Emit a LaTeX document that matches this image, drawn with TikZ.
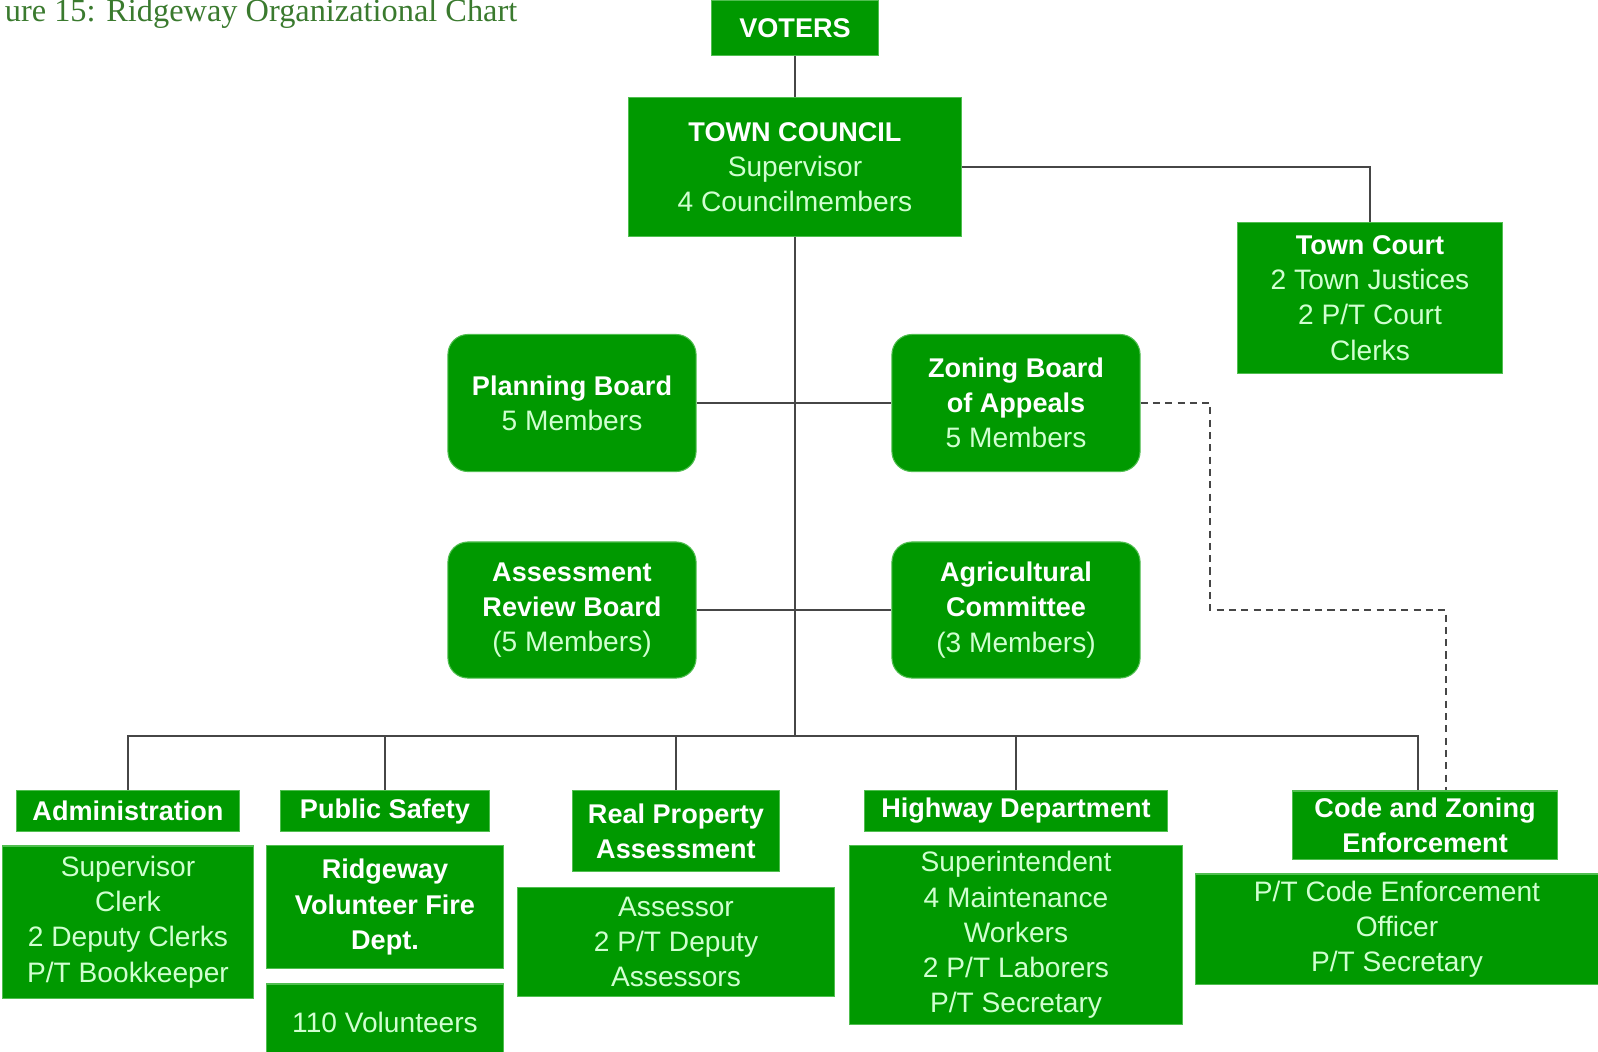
\documentclass[tikz,border=0pt]{standalone}
\usepackage{fontspec}
\setsansfont{Liberation Sans}
\newfontfamily\titlefont{Liberation Serif}
\usepackage{xcolor}
\usepackage{tikz}

\definecolor{orggreen}{RGB}{0,153,0}
\definecolor{orgedge}{RGB}{80,190,80}
\definecolor{orgtext}{RGB}{208,255,208}
\definecolor{orgline}{RGB}{70,70,70}
\definecolor{titlegreen}{RGB}{58,122,46}
\newcommand{\hd}[1]{\textcolor{white}{\bfseries\fontsize{7.7}{10}\selectfont #1}}

\begin{document}
\begin{tikzpicture}[
  x=0.01cm, y=-0.01cm,
  orgbox/.style={fill=orggreen, draw=orgedge, line width=0.3pt, inner sep=0pt, align=center,
    text=orgtext, font=\sffamily\fontsize{8}{10}\selectfont},
  roundbox/.style={orgbox, rounded corners=0.2cm},
  headbox/.style={orgbox, text=white, font=\sffamily\bfseries\fontsize{7.7}{10}\selectfont},
  link/.style={draw=orgline, line width=0.7pt},
  dashlink/.style={link, dash pattern=on 2pt off 1.5pt},
]
  \useasboundingbox (0,0) rectangle (1598,1051);

  % Title
  \node[anchor=base east, inner sep=0pt, text=titlegreen, font=\titlefont\fontsize{9.2}{11}\selectfont]
    (title) at (518,21) {ure 15: Ridgeway Organizational Chart};

  % Top
  \node[headbox, minimum width=1.66cm, minimum height=0.55cm] (voters) at (795,28) {VOTERS};
  \node[orgbox, minimum width=3.32cm, minimum height=1.38cm] (council) at (795,167)
    {\hd{TOWN COUNCIL}\\Supervisor\\4 Councilmembers};
  \node[orgbox, minimum width=2.64cm, minimum height=1.51cm] (court) at (1370,298)
    {\hd{Town Court}\\2 Town Justices\\2 P/T Court\\Clerks};

  % Boards
  \node[roundbox, minimum width=2.48cm, minimum height=1.37cm] (planning) at (572,403)
    {\hd{Planning Board}\\5 Members};
  \node[roundbox, minimum width=2.48cm, minimum height=1.37cm] (zoning) at (1016,403)
    {\hd{Zoning Board}\\\hd{of Appeals}\\5 Members};
  \node[roundbox, minimum width=2.48cm, minimum height=1.36cm] (review) at (572,610)
    {\hd{Assessment}\\\hd{Review Board}\\(5 Members)};
  \node[roundbox, minimum width=2.48cm, minimum height=1.36cm] (agri) at (1016,610)
    {\hd{Agricultural}\\\hd{Committee}\\(3 Members)};

  % Departments
  \node[headbox, minimum width=2.22cm, minimum height=0.41cm] (adminh) at (128,811) {Administration};
  \node[orgbox, minimum width=2.50cm, minimum height=1.52cm] (admin) at (128,922)
    {Supervisor\\Clerk\\2 Deputy Clerks\\P/T Bookkeeper};

  \node[headbox, minimum width=2.08cm, minimum height=0.41cm] (safetyh) at (385,811) {Public Safety};
  \node[headbox, minimum width=2.36cm, minimum height=1.23cm] (fire) at (385,907)
    {Ridgeway\\Volunteer Fire\\Dept.};
  \node[orgbox, minimum width=2.36cm, minimum height=0.76cm] (volunteers) at (385,1022) {110 Volunteers};

  \node[headbox, minimum width=2.07cm, minimum height=0.81cm] (propertyh) at (676,831)
    {Real Property\\Assessment};
  \node[orgbox, minimum width=3.17cm, minimum height=1.09cm] (assessor) at (676,942)
    {Assessor\\2 P/T Deputy\\Assessors};

  \node[headbox, minimum width=3.03cm, minimum height=0.41cm] (highwayh) at (1016,811) {Highway Department};
  \node[orgbox, minimum width=3.32cm, minimum height=1.78cm] (highway) at (1016,935)
    {Superintendent\\4 Maintenance\\Workers\\2 P/T Laborers\\P/T Secretary};

  \node[headbox, minimum width=2.64cm, minimum height=0.68cm] (codeh) at (1425,825)
    {Code and Zoning\\Enforcement};
  \node[orgbox, minimum width=4.02cm, minimum height=1.10cm] (code) at (1397,929)
    {P/T Code Enforcement\\Officer\\P/T Secretary};

  % Lines
  \coordinate (bus) at (795,736);
  \coordinate (dz) at (1210,610);
  \draw[link] (voters) -- (council);
  \draw[link] (council.south) -- (bus);
  \draw[link] (council.east) -| (court.north);
  \draw[link] (planning.east) -- (zoning.west);
  \draw[link] (review.east) -- (agri.west);
  \draw[link] (adminh.north) |- (bus) -| ([xshift=-0.07cm]codeh.north);
  \draw[link] (safetyh.north) -- (safetyh.north |- bus);
  \draw[link] (propertyh.north) -- (propertyh.north |- bus);
  \draw[link] (highwayh.north) -- (highwayh.north |- bus);
  \draw[dashlink] (zoning.east) -| (dz) -| ([xshift=0.21cm]codeh.north);
\end{tikzpicture}
\end{document}
